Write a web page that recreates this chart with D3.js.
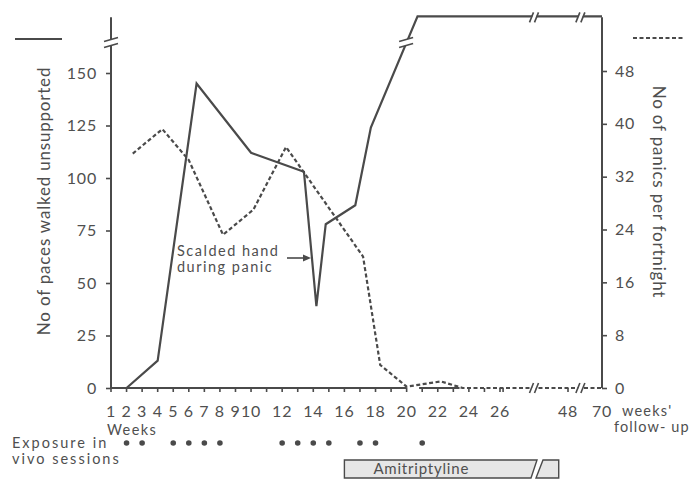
<!DOCTYPE html>
<html>
<head>
<meta charset="utf-8">
<script src="https://cdn.jsdelivr.net/npm/d3@7"></script>
<style>
  body { margin: 0; background: #fff; }
  svg text { font-family: Lato, "Open Sans", sans-serif; fill: #4f4f4f; letter-spacing: 0.8px; }
</style>
</head>
<body>
<svg id="chart" width="691" height="484"></svg>
<script>
// paces walked unsupported (left axis), plateau = off the broken scale
const pacesWeeks = [2, 4, 6.5, 10, 13.4, 14.2, 14.8, 16.7, 17.7, 20.7, 70];
const pacesValues = [0, 13, 145, 112, 103, 39, 78, 87, 124, 177, 177];
// panics per fortnight (right axis)
const panicWeeks = [2.4, 4.3, 6, 8.2, 10.15, 12.25, 17.2, 18.3, 20, 22.2, 23.6, 70];
const panicValues = [35.5, 39.2, 34.5, 23.2, 27, 36.5, 19.9, 3.5, 0.2, 1, 0, 0];

const pacesTicks = [0, 25, 50, 75, 100, 125, 150];
const panicTicks = [0, 8, 16, 24, 32, 40, 48];
const weekTicks = d3.range(1, 28).concat([48]);
const weekLabels = [1, 2, 3, 4, 5, 6, 7, 8, 9, 10, 12, 14, 16, 18, 20, 22, 24, 26, 48, 70];
const exposureWeeks = [2, 3, 5, 6, 7, 8, 12, 13, 14, 15, 17, 18, 21];
const drugWeeks = [16, 45];
const breakWeeks = [37, 56];

const ink = '#4a4a4a';
const svg = d3.select('#chart');

const x = d3.scaleLinear().domain([1, 26, 48, 70]).range([111, 500, 568, 602]);
const yL = d3.scaleLinear().domain([0, 150]).range([388, 73]);
const yR = d3.scaleLinear().domain([0, 48]).range([388, 71]);
const pacesTop = 176.5;
const pacesBreak = 164;

// left axis
const leftAxis = svg.append('g')
    .attr('transform', `translate(${x(1)},0)`)
    .call(d3.axisLeft(yL).tickValues(pacesTicks).tickSize(5).tickPadding(9));
leftAxis.select('.domain').remove();
leftAxis.selectAll('line').attr('stroke', ink).attr('stroke-width', 1.6);
leftAxis.selectAll('text').attr('font-size', 16).attr('font-family', null).attr('fill', null);
svg.append('line')
    .attr('x1', x(1)).attr('x2', x(1))
    .attr('y1', yL(0)).attr('y2', yL(pacesTop))
    .attr('stroke', ink).attr('stroke-width', 2);

// right axis
const rightAxis = svg.append('g')
    .attr('transform', `translate(${x(70)},0)`)
    .call(d3.axisRight(yR).tickValues(panicTicks).tickSize(5).tickPadding(8));
rightAxis.select('.domain').remove();
rightAxis.selectAll('line').attr('stroke', ink).attr('stroke-width', 1.6);
rightAxis.selectAll('text').attr('font-size', 16).attr('font-family', null).attr('fill', null);
svg.append('line')
    .attr('x1', x(70)).attr('x2', x(70))
    .attr('y1', yR(0)).attr('y2', yL(pacesTop))
    .attr('stroke', ink).attr('stroke-width', 2);

// bottom axis: baseline is only visible up to week 20 and in the 21-23 stretch
[[1, 20], [20.8, 23.4]].forEach(s => {
  svg.append('line')
      .attr('x1', x(s[0])).attr('x2', x(s[1]))
      .attr('y1', yL(0)).attr('y2', yL(0))
      .attr('stroke', ink).attr('stroke-width', 2);
});
svg.append('g').selectAll('line')
    .data(weekTicks)
  .enter().append('line')
    .attr('x1', d => x(d)).attr('x2', d => x(d))
    .attr('y1', yL(0)).attr('y2', yL(0) + 4)
    .attr('stroke', ink).attr('stroke-width', 1.6);
svg.append('g').selectAll('text')
    .data(weekLabels)
  .enter().append('text')
    .attr('x', d => x(d))
    .attr('y', 417)
    .attr('text-anchor', 'middle')
    .attr('font-size', 16)
    .text(d => d);

// series
const pacesLine = d3.line().x(d => x(d[0])).y(d => yL(d[1]));
svg.append('path')
    .datum(d3.zip(pacesWeeks, pacesValues))
    .attr('d', pacesLine)
    .attr('fill', 'none')
    .attr('stroke', ink)
    .attr('stroke-width', 2.2)
    .attr('stroke-linejoin', 'miter');

const panicLine = d3.line().x(d => x(d[0])).y(d => yR(d[1]));
svg.append('path')
    .datum(d3.zip(panicWeeks, panicValues))
    .attr('d', panicLine)
    .attr('fill', 'none')
    .attr('stroke', ink)
    .attr('stroke-width', 2.2)
    .attr('stroke-dasharray', '4,2.5');

// break marks
function breakOnVertical(cx, cy) {
  svg.append('polygon')
      .attr('points', [[cx - 7, cy - 1], [cx + 7, cy - 5], [cx + 7, cy + 1], [cx - 7, cy + 5]].join(' '))
      .attr('fill', '#fff');
  [-3, 3].forEach(o => {
    svg.append('line')
        .attr('x1', cx - 7).attr('y1', cy + 2 + o)
        .attr('x2', cx + 7).attr('y2', cy - 2 + o)
        .attr('stroke', ink).attr('stroke-width', 1.6);
  });
}
function breakOnHorizontal(cx, cy) {
  svg.append('polygon')
      .attr('points', [[cx - 4, cy + 5], [cx, cy - 5], [cx + 4, cy - 5], [cx, cy + 5]].join(' '))
      .attr('fill', '#fff');
  [-2.5, 2.5].forEach(o => {
    svg.append('line')
        .attr('x1', cx - 2 + o).attr('y1', cy + 5)
        .attr('x2', cx + 2 + o).attr('y2', cy - 5)
        .attr('stroke', ink).attr('stroke-width', 1.6);
  });
}
breakOnVertical(x(1), yL(pacesBreak) - 1);
// where the paces line crosses the break level
const pi = pacesValues.findIndex(v => v > pacesBreak);
const t = (pacesBreak - pacesValues[pi - 1]) / (pacesValues[pi] - pacesValues[pi - 1]);
breakOnVertical(x(pacesWeeks[pi - 1] + t * (pacesWeeks[pi] - pacesWeeks[pi - 1])), yL(pacesBreak) - 1);
breakWeeks.forEach(w => {
  breakOnHorizontal(x(w), yL(pacesTop));
  breakOnHorizontal(x(w), yL(0));
});

// legend keys
svg.append('line')
    .attr('x1', 15).attr('x2', 62).attr('y1', 39).attr('y2', 39)
    .attr('stroke', ink).attr('stroke-width', 2);
svg.append('line')
    .attr('x1', 633).attr('x2', 683).attr('y1', 38).attr('y2', 38)
    .attr('stroke', ink).attr('stroke-width', 2.2).attr('stroke-dasharray', '4,2.5');

// axis titles
svg.append('text')
    .attr('transform', 'translate(50,201) rotate(-90)')
    .attr('text-anchor', 'middle')
    .attr('font-size', 17)
    .text('No of paces walked unsupported');
svg.append('text')
    .attr('transform', 'translate(653,192) rotate(90)')
    .attr('text-anchor', 'middle')
    .attr('font-size', 17)
    .text('No of panics per fortnight');

// annotation
function label(tx, ty, str, spacing) {
  svg.append('text')
      .attr('x', tx).attr('y', ty)
      .attr('font-size', 14.5)
      .style('letter-spacing', spacing + 'px')
      .text(str);
}
label(177, 256, 'Scalded hand', 1.5);
label(177, 272, 'during panic', 1.5);
svg.append('line')
    .attr('x1', 287).attr('x2', 304).attr('y1', 258).attr('y2', 258)
    .attr('stroke', ink).attr('stroke-width', 1.6);
svg.append('path')
    .attr('d', 'M303,254.5L311,258L303,261.5Z')
    .attr('fill', ink);

// bottom labels
label(107, 435, 'Weeks', 1.4);
label(622, 416, "weeks'", 1.2);
label(614, 432, 'follow- up', 1.1);
label(12, 448, 'Exposure in', 2);
label(12, 464, 'vivo sessions', 2);

svg.append('g').selectAll('circle')
    .data(exposureWeeks)
  .enter().append('circle')
    .attr('cx', d => x(d))
    .attr('cy', 443)
    .attr('r', 2.8)
    .attr('fill', ink);

// amitriptyline bar
const bx0 = x(drugWeeks[0]);
const bx1 = x(drugWeeks[1]);
const bb = x(breakWeeks[0]);
svg.append('polygon')
    .attr('points', [[bx0, 460], [bb + 3, 460], [bb - 3, 478], [bx0, 478]].join(' '))
    .attr('fill', '#e6e6e6').attr('stroke', ink).attr('stroke-width', 1.4);
svg.append('polygon')
    .attr('points', [[bb + 9, 460], [bx1, 460], [bx1, 478], [bb + 2, 478]].join(' '))
    .attr('fill', '#e6e6e6').attr('stroke', ink).attr('stroke-width', 1.4);
svg.append('text')
    .attr('x', bx0 + 29).attr('y', 474)
    .attr('font-size', 15)
    .text('Amitriptyline');
</script>
</body>
</html>
